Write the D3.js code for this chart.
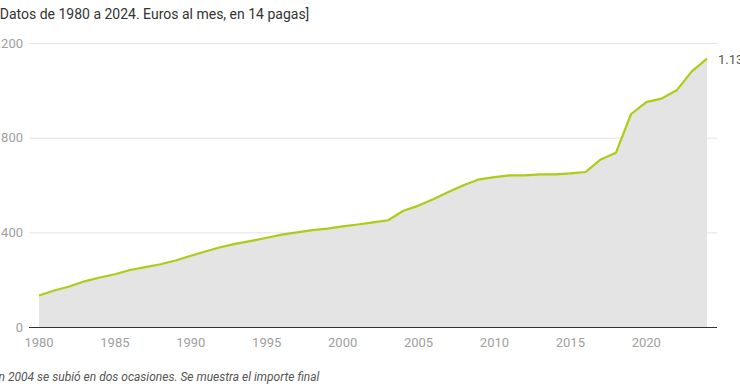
<!DOCTYPE html>
<html>
<head>
<meta charset="utf-8">
<script src="https://cdn.jsdelivr.net/npm/d3@7"></script>
<style>
  body { margin: 0; background: #fff; font-family: Roboto, "Noto Sans", sans-serif; }
  svg { display: block; }
</style>
</head>
<body>
<div id="chart"></div>
<script>
const years = d3.range(1980, 2025);
// SMI, euros al mes en 14 pagas
const values = [133, 154, 171, 193, 209, 223, 241, 253, 265, 281,
  301, 320, 338, 352, 364, 377, 390, 400, 409, 416,
  425, 433, 442, 451, 491, 513, 541, 571, 600, 624,
  633, 641, 641, 645, 645, 649, 655, 708, 736, 900,
  950, 965, 1000, 1080, 1134];
const yTicks = [0, 400, 800, 1200];
const xTicks = [1980, 1985, 1990, 1995, 2000, 2005, 2010, 2015, 2020];
const title = "[Datos de 1980 a 2024. Euros al mes, en 14 pagas]";
const note = "En 2004 se subió en dos ocasiones. Se muestra el importe final";

const width = 740, height = 389;
const svg = d3.select("#chart").append("svg")
    .attr("width", width)
    .attr("height", height);

const x = d3.scaleLinear().domain([1980, 2024]).range([39, 707]);
const y = d3.scaleLinear().domain([0, 1200]).range([327, 43]);

const data = years.map((yr, i) => ({ year: yr, value: values[i] }));

svg.append("text")
    .attr("x", -4)
    .attr("y", 19)
    .attr("font-size", 14)
    .attr("fill", "#333")
    .text(title);

// gridlines
svg.selectAll("line.grid")
    .data(yTicks.filter(d => d > 0))
    .enter()
    .append("line")
    .attr("class", "grid")
    .attr("x1", 29)
    .attr("x2", 717)
    .attr("y1", d => y(d) + 0.5)
    .attr("y2", d => y(d) + 0.5)
    .attr("stroke", "#e3e3e3");

svg.selectAll("text.ytick")
    .data(yTicks)
    .enter()
    .append("text")
    .attr("class", "ytick")
    .attr("x", 23)
    .attr("y", d => y(d) + 4.5)
    .attr("text-anchor", "end")
    .attr("font-size", 13)
    .attr("fill", "#a0a0a0")
    .text(d => d3.format(",")(d).replace(",", "."));

svg.append("path")
    .datum(data)
    .attr("fill", "#e4e4e4")
    .attr("d", d3.area().x(d => x(d.year)).y0(y(0)).y1(d => y(d.value)));

svg.append("path")
    .datum(data)
    .attr("fill", "none")
    .attr("stroke", "#afcb16")
    .attr("stroke-width", 2.2)
    .attr("stroke-linejoin", "round")
    .attr("d", d3.line().x(d => x(d.year)).y(d => y(d.value)));

svg.append("line")
    .attr("x1", 29)
    .attr("x2", 717)
    .attr("y1", y(0) + 0.5)
    .attr("y2", y(0) + 0.5)
    .attr("stroke", "#333");

svg.selectAll("text.xtick")
    .data(xTicks)
    .enter()
    .append("text")
    .attr("class", "xtick")
    .attr("x", d => x(d))
    .attr("y", 347)
    .attr("text-anchor", "middle")
    .attr("font-size", 13)
    .attr("fill", "#a0a0a0")
    .text(d => d);

const last = data[data.length - 1];
svg.append("text")
    .attr("x", 718)
    .attr("y", y(last.value) + 5)
    .attr("font-size", 13)
    .attr("fill", "#555")
    .text(d3.format(",")(last.value).replace(",", "."));

svg.append("text")
    .attr("x", -8)
    .attr("y", 381)
    .attr("font-size", 12)
    .attr("font-style", "italic")
    .attr("fill", "#555")
    .text(note);
</script>
</body>
</html>
